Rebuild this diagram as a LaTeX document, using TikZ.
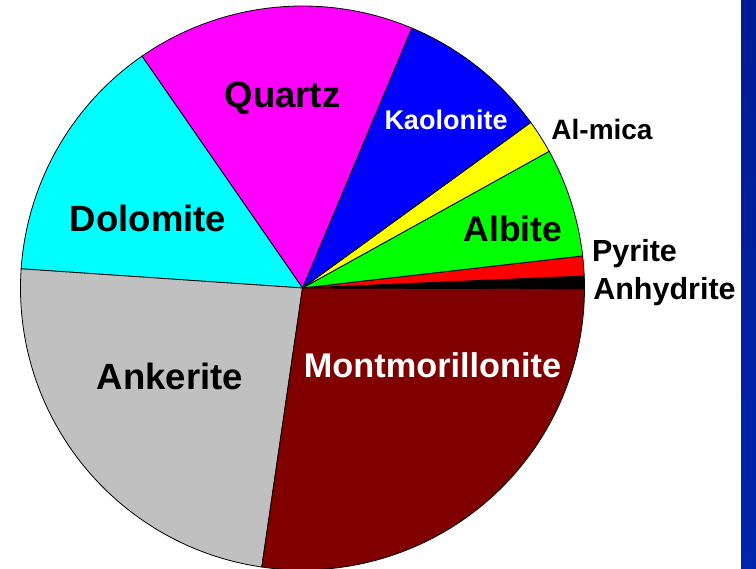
\documentclass[tikz,border=0pt]{standalone}
\usepackage{fontspec}
\setmainfont{Liberation Sans}
\definecolor{maroon}{RGB}{128,0,0}
\definecolor{silver}{RGB}{192,192,192}
\definecolor{aqua}{RGB}{0,255,255}
\definecolor{fuchsia}{RGB}{255,0,255}
\definecolor{lemon}{RGB}{255,255,0}
\definecolor{bartop}{RGB}{0,28,148}
\definecolor{barbottom}{RGB}{0,36,170}
\newcommand{\bigfont}{\bfseries\fontsize{36.5}{36.5}\selectfont}

\begin{document}
\begin{tikzpicture}[x=1pt, y=1pt,
    slice/.style={draw=black, line width=0.8pt},
    lbl/.style={anchor=base, inner sep=0pt, font=\bigfont},
    side/.style={anchor=base, inner sep=0pt, font=\bfseries\fontsize{30.5}{30.5}\selectfont}]
    \useasboundingbox (0,0) rectangle (756,569);
    \shade[top color=bartop, bottom color=barbottom] (741,0) rectangle (756,569);
    \coordinate (o) at (302.5,281);
    % slices, counterclockwise from the right
    \foreach \a/\b/\c in {-0.2/2.45/black, 2.45/6.54/red, 6.54/29/green,
        29/35.95/lemon, 35.95/67.2/blue, 67.2/124.7/fuchsia,
        124.7/176.1/aqua, 176.1/261.7/silver, 261.7/359.8/maroon}
    {
        \filldraw[slice, fill=\c] (o) -- ++(\a:282)
            arc[start angle=\a, end angle=\b, radius=282] -- cycle;
    }
    % labels
    \node[lbl] (quartz) at (282.5,461) {Quartz};
    \node[lbl, font=\bfseries\fontsize{27}{27}\selectfont, white] (kaolonite) at (446,439) {Kaolonite};
    \node[lbl] (dolomite) at (148,337) {Dolomite};
    \node[lbl, font=\bfseries\fontsize{35.5}{35.5}\selectfont] (albite) at (513,327) {Albite};
    \node[lbl] (ankerite) at (170,179) {Ankerite};
    \node[lbl, font=\bfseries\fontsize{34.3}{34.3}\selectfont, white] (montmorillonite) at (432.5,191) {Montmorillonite};
    \node[side, font=\bfseries\fontsize{28}{28}\selectfont] (almica) at (602,429) {Al-mica};
    \node[side] (pyrite) at (634.5,307) {Pyrite};
    \node[side] (anhydrite) at (664.5,269) {Anhydrite};
\end{tikzpicture}
\end{document}
